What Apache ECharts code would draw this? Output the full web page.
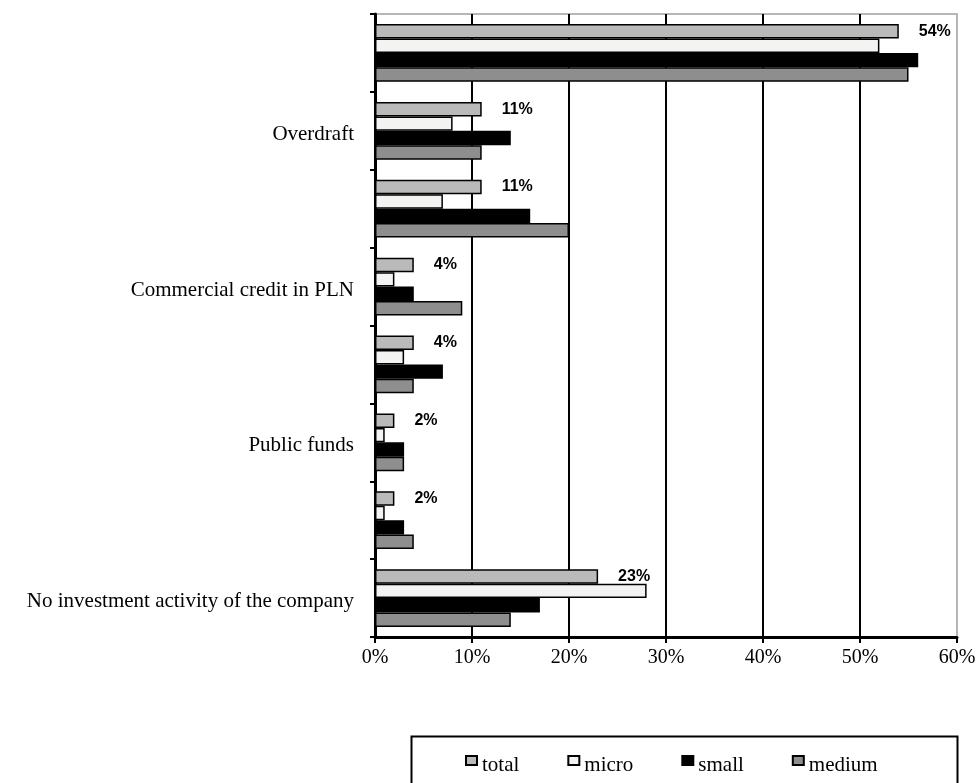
<!DOCTYPE html>
<html>
<head>
<meta charset="utf-8">
<script src="https://cdn.jsdelivr.net/npm/echarts@6/dist/echarts.min.js"></script>
<style>html,body{margin:0;padding:0;background:#fff;}#c{width:980px;height:783px;}</style>
</head>
<body>
<div id="c"></div>
<script>
// Categories (top to bottom); only every second label is printed in the reference
const categories = ['', 'Overdraft', '', 'Commercial credit in PLN', '', 'Public funds', '', 'No investment activity of the company'];
const seriesNames = ['total', 'micro', 'small', 'medium'];
const totalValues  = [54, 11, 11, 4, 4, 2, 2, 23];
const microValues  = [52, 8, 7, 2, 3, 1, 1, 28];
const smallValues  = [56, 14, 16, 4, 7, 3, 3, 17];
const mediumValues = [55, 11, 20, 9, 4, 3, 4, 14];
const xTicks = [0, 10, 20, 30, 40, 50, 60];

const serif = "'Liberation Serif','Times New Roman',serif";
const colors = ['#bababa', '#f3f4f2', '#000000', '#8e8e8e'];
const dataSets = [totalValues, microValues, smallValues, mediumValues];

const chart = echarts.init(document.getElementById('c'), null, {renderer: 'canvas'});
const series = seriesNames.map((name, i) => ({
  name: name,
  type: 'bar',
  data: dataSets[i],
  barGap: '0%',
  barCategoryGap: '26%',
  itemStyle: {color: colors[i], borderColor: '#000', borderWidth: 1.5},
  label: i === 0 ? {
    show: true, position: 'right', distance: 20,
    formatter: '{c}%', color: '#000',
    fontFamily: "'Liberation Sans', Arial, sans-serif", fontWeight: 'bold', fontSize: 16
  } : {show: false},
  emphasis: {disabled: true},
  animation: false
}));

chart.setOption({
  backgroundColor: '#fff',
  animation: false,
  grid: {left: 375, right: 23, top: 14, bottom: 146, show: true, borderColor: '#a0a0a0', borderWidth: 1.5, backgroundColor: 'transparent'},
  xAxis: {
    type: 'value', min: xTicks[0], max: xTicks[xTicks.length - 1], interval: 10,
    axisLine: {show: true, lineStyle: {color: '#000', width: 3}},
    axisTick: {show: true, length: 6, lineStyle: {color: '#000', width: 2}},
    axisLabel: {formatter: '{value}%', color: '#000', fontFamily: serif, fontSize: 20, margin: 11},
    splitLine: {show: true, showMinLine: false, showMaxLine: false, lineStyle: {color: '#000', width: 2}}
  },
  yAxis: {
    type: 'category', inverse: true, data: categories,
    axisLine: {show: true, lineStyle: {color: '#000', width: 3}},
    axisTick: {show: true, length: 5, lineStyle: {color: '#000', width: 2}},
    axisLabel: {
      interval: 0, color: '#000', fontFamily: serif, fontSize: 21, margin: 21,
      formatter: v => v ? '{c|' + v + '}' : '',
      rich: {c: {fontFamily: serif, fontSize: 21, color: '#000', padding: [7, 0, 0, 0]}}
    },
    splitLine: {show: false}
  },
  legend: {
    data: seriesNames,
    left: 465, top: 755, padding: 0,
    itemWidth: 11, itemHeight: 9, itemGap: 48,
    icon: 'rect',
    formatter: name => '{n|' + name + '}',
    textStyle: {color: '#000', fontFamily: serif, fontSize: 21,
      rich: {n: {fontFamily: serif, fontSize: 21, color: '#000', padding: [10, 0, 0, 0]}}},
    selectedMode: false
  },
  graphic: [{
    type: 'rect', left: 409, top: 734,
    shape: {width: 546, height: 80},
    style: {fill: 'none', stroke: '#000', lineWidth: 2},
    silent: true
  }],
  series: series
});
</script>
</body>
</html>
